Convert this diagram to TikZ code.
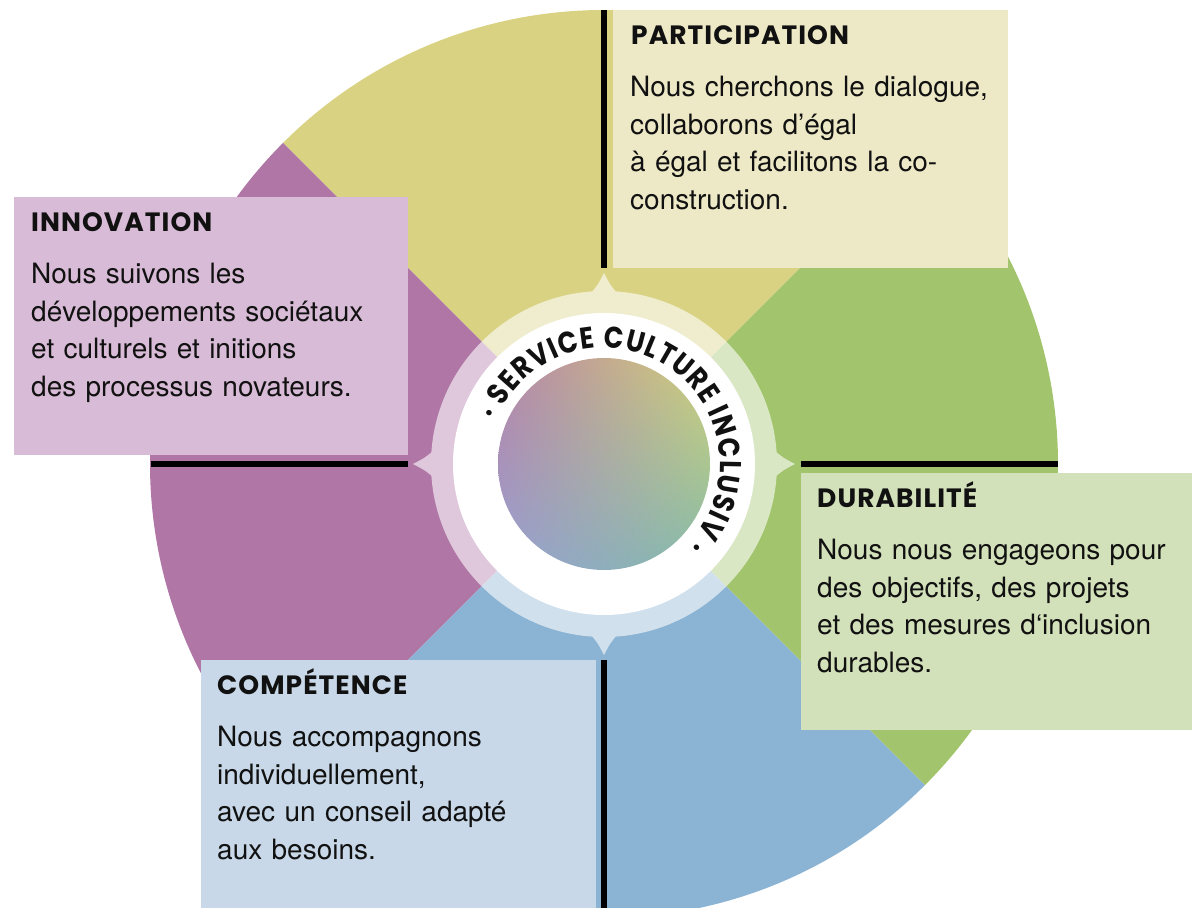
\documentclass[tikz,border=0pt]{standalone}
\usepackage{fontspec}
\setmainfont{TeX Gyre Heros}
\newfontfamily\headfont{Poppins}[LetterSpace=4.0]
\newfontfamily\ringfont{Poppins}[FakeStretch=0.86]
\usetikzlibrary{decorations.text,calc,shadings}

\definecolor{secY}{HTML}{D9D282}
\definecolor{secP}{HTML}{B077A6}
\definecolor{secG}{HTML}{A2C46C}
\definecolor{secB}{HTML}{8BB3D3}
\definecolor{boxY}{HTML}{EDE8C5}
\definecolor{boxP}{HTML}{D8BBD6}
\definecolor{boxG}{HTML}{D3E1BA}
\definecolor{boxB}{HTML}{C8D8E8}
\definecolor{gNW}{HTML}{B884A6}
\definecolor{gNE}{HTML}{D0D07A}
\definecolor{gSE}{HTML}{84BCA8}
\definecolor{gSW}{HTML}{98A0D0}
\definecolor{ink}{HTML}{111111}

\tikzset{
  panel/.style={rectangle, inner sep=0pt, anchor=south west, draw=none},
  headtxt/.style={inner sep=0pt, anchor=base west, text=ink, font=\headfont\bfseries\fontsize{26.5}{26.5}\selectfont},
  bodytxt/.style={inner sep=0pt, anchor=base west, text=ink, text width=380pt, align=left, font=\fontsize{28}{37.4}\selectfont},
  blackline/.style={draw=black, line width=6pt},
}

\begin{document}
\begin{tikzpicture}[x=1pt,y=1pt]
\useasboundingbox (0,0) rectangle (1192,908);
\clip (0,0) rectangle (1192,908);
\coordinate (c) at (604,444);

% sectors
\fill[secY] (c) -- ($(c)+(45:454)$) arc[start angle=45,end angle=135,radius=454] -- cycle;
\fill[secP] (c) -- ($(c)+(135:454)$) arc[start angle=135,end angle=225,radius=454] -- cycle;
\fill[secB] (c) -- ($(c)+(225:454)$) arc[start angle=225,end angle=315,radius=454] -- cycle;
\fill[secG] (c) -- ($(c)+(-45:454)$) arc[start angle=-45,end angle=45,radius=454] -- cycle;

% translucent ring with pointers
\fill[white, fill opacity=0.6] (c) circle[radius=173]
  \foreach \a in {0,90,180,270} {
    ($(c)+(\a-6.8:165)$) .. controls ($(c)+(\a-2.2:178)$) .. ($(c)+(\a:191)$)
    .. controls ($(c)+(\a+2.2:178)$) .. ($(c)+(\a+6.8:165)$) -- cycle
  };
\fill[white] (c) circle[radius=151];
\shade[upper left=gNW, upper right=gNE, lower left=gSW, lower right=gSE] (c) circle[radius=106];

% ring text
\path[decorate, decoration={text along path, text align={fit to path},
  text={|\ringfont\bfseries\fontsize{30}{30}\selectfont\color{ink}|· SERVICE CULTURE INCLUSIV ·}}]
  ($(c)+(158:116)$) arc[start angle=158, end angle=-44, radius=116];

% black divider lines
\coordinate (lt1) at (604,898); \coordinate (lt2) at (604,640);
\coordinate (ll1) at (151,444); \coordinate (ll2) at (408,444);
\coordinate (lr1) at (801,444); \coordinate (lr2) at (1058,444);
\coordinate (lb1) at (604,248); \coordinate (lb2) at (604,0);
\draw[blackline] (lt1) -- (lt2);
\draw[blackline] (ll1) -- (ll2);
\draw[blackline] (lr1) -- (lr2);
\draw[blackline] (lb1) -- (lb2);

% panels
\node[panel, fill=boxY, minimum width=395, minimum height=258] (pbox) at (613,640) {};
\node[panel, fill=boxP, minimum width=394, minimum height=258] (ibox) at (14,453) {};
\node[panel, fill=boxG, minimum width=391, minimum height=257] (dbox) at (801,178) {};
\node[panel, fill=boxB, minimum width=395, minimum height=248] (cbox) at (201,0) {};

% texts
\node[headtxt] (phead) at (631,863) {PARTICIPATION};
\node[bodytxt] (pbody) at (630,811) {Nous cherchons le dialogue,\\collaborons d’égal\\à égal et facilitons la co-\\construction.};

\node[headtxt] (ihead) at (31,676) {INNOVATION};
\node[bodytxt] (ibody) at (31,624) {Nous suivons les\\développements sociétaux\\et culturels et initions\\des processus novateurs.};

\node[headtxt] (dhead) at (817,400) {DURABILITÉ};
\node[bodytxt] (dbody) at (817,348) {Nous nous engageons pour\\des objectifs, des projets\\et des mesures d‘inclusion\\durables.};

\node[headtxt] (chead) at (217,213) {COMPÉTENCE};
\node[bodytxt] (cbody) at (217,161) {Nous accompagnons\\individuellement,\\avec un conseil adapté\\aux besoins.};
\end{tikzpicture}
\end{document}
